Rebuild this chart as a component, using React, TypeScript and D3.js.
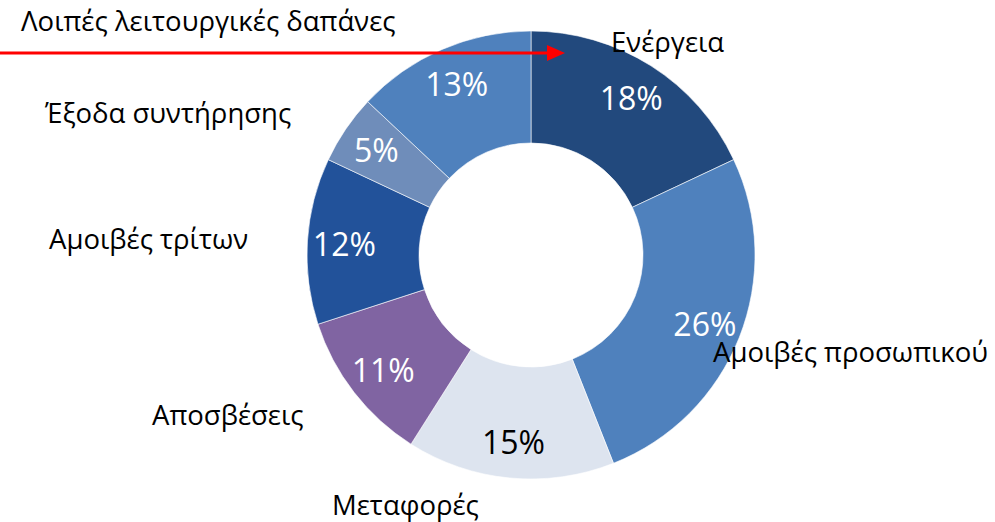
import React from "react";
import * as d3 from "d3";

const categories = [
  "Ενέργεια",
  "Αμοιβές προσωπικού",
  "Μεταφορές",
  "Αποσβέσεις",
  "Αμοιβές τρίτων",
  "Έξοδα συντήρησης",
  "Λοιπές λειτουργικές δαπάνες",
];
const values = [18, 26, 15, 11, 12, 5, 13];
const percentLabels = ["18%", "26%", "15%", "11%", "12%", "5%", "13%"];

// styles (kept separate from data)
const sliceColors = ["#22497D", "#4F81BD", "#DDE4EF", "#8064A2", "#22529A", "#6F8DBA", "#4F81BD"];
const percentColors = ["#fff", "#fff", "#000", "#fff", "#fff", "#fff", "#fff"];
// category label anchors (start-aligned text, baseline)
const labelPos: [number, number][] = [
  [611, 52],
  [713, 362],
  [332, 515],
  [152, 425],
  [49, 249],
  [45, 123],
  [21, 31],
];

const W = 995;
const H = 522;
const cx = 531;
const cy = 255;
const outerR = 224;
const innerR = 112;
const labelR = 187;
const FONT = "'Open Sans', Roboto, sans-serif";

export default function App() {
  const pie = d3
    .pie<number>()
    .sort(null)
    .value((d) => d)
    .startAngle(0)
    .endAngle(2 * Math.PI);
  const arcs = pie(values);
  const arc = d3.arc<d3.PieArcDatum<number>>().innerRadius(innerR).outerRadius(outerR);
  const labelArc = d3.arc<d3.PieArcDatum<number>>().innerRadius(labelR).outerRadius(labelR);

  const arrowY = 53;
  const arrowEnd = 565;

  return (
    <svg
      width={W}
      height={H}
      style={{ position: "absolute", left: 0, top: 0, background: "#fff" }}
      fontFamily={FONT}
    >
      <g transform={`translate(${cx},${cy})`}>
        {arcs.map((a, i) => (
          <path key={i} d={arc(a) || ""} fill={sliceColors[i]} stroke="#fff" strokeWidth={0.6} />
        ))}
        {arcs.map((a, i) => {
          const [x, y] = labelArc.centroid(a);
          return (
            <text
              key={"p" + i}
              x={x}
              y={y}
              textAnchor="middle"
              dominantBaseline="central"
              fontSize={32}
              fill={percentColors[i]}
            >
              {percentLabels[i]}
            </text>
          );
        })}
      </g>
      {categories.map((c, i) => (
        <text key={"c" + i} x={labelPos[i][0]} y={labelPos[i][1]} fontSize={27.5} fill="#000">
          {c}
        </text>
      ))}
      <line x1={0} y1={arrowY} x2={arrowEnd - 16} y2={arrowY} stroke="#FF0000" strokeWidth={3} />
      <path
        d={`M${arrowEnd - 18},${arrowY - 8} L${arrowEnd},${arrowY} L${arrowEnd - 18},${arrowY + 8} Z`}
        fill="#FF0000"
      />
    </svg>
  );
}
